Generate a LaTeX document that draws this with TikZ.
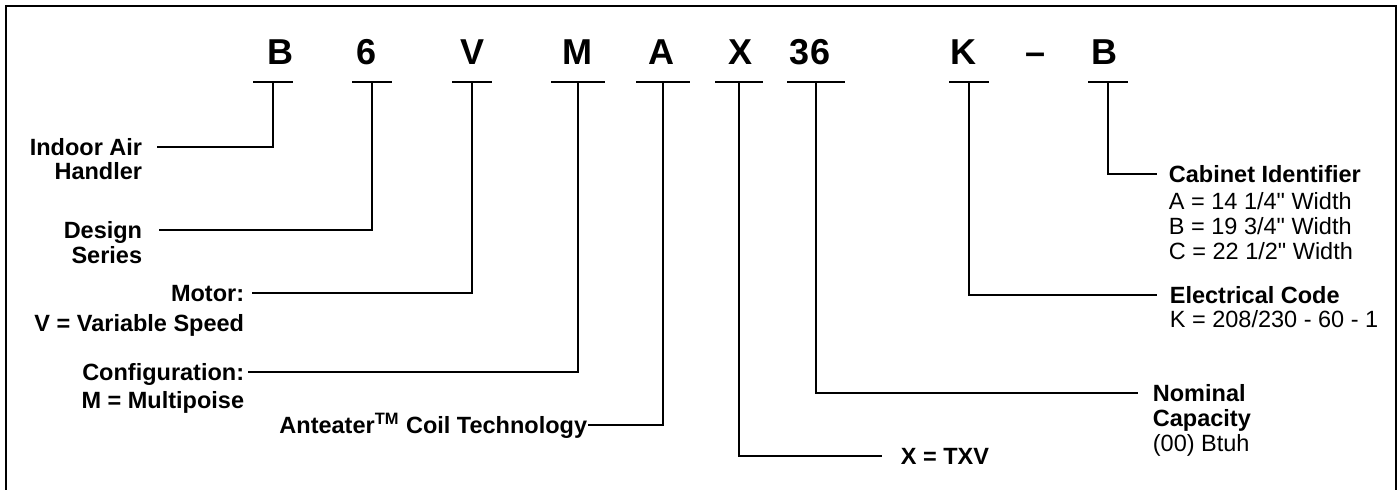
\documentclass[tikz,border=0pt]{standalone}
\usepackage{fontspec}
\setmainfont{Liberation Sans}
\usetikzlibrary{positioning}

\begin{document}
\begin{tikzpicture}[x=0.5pt,y=-0.5pt,line width=0.9pt,
                    code node/.style={font=\bfseries\fontsize{18pt}{20pt}\selectfont,anchor=base,inner sep=0pt},
                    label node/.style={font=\bfseries\fontsize{11.75pt}{12.5pt}\selectfont,inner sep=0pt,
                                       text height=8.4pt,text depth=0pt},
                    detail node/.style={font=\fontsize{11.75pt}{12.5pt}\selectfont,inner sep=0pt,align=left}]

  \useasboundingbox (0,0) rectangle (1399,489);
  \draw (6,500) |- (1396,6) -- (1396,500);

  % model number and the bars under it
  \foreach \cx/\ch/\sx/\hw/\nm in {280/B/273/20/b, 367/6/372/20/six, 473/V/472/20/v,
                                   577/M/578/27/m, 661/A/663/27/a, 740/X/739/24/x,
                                   810/36/816/29/cap, 963/K/969/20/k, 1104/B/1108/20/cab}{
    \node[code node] (c\nm) at (\cx,64) {\ch};
    \coordinate (t\nm) at (\sx,82);
    \draw (t\nm) ++(-\hw,0) -- ++(2*\hw,0);
  }
  \node[code node] (dash) at (1036,64) {\textendash};

  % left side
  \node[label node,anchor=east] (indoor) at (143,147) {Indoor Air};
  \node[label node,below=12pt of indoor.base east,anchor=base east] (handler) {Handler};
  \node[label node,anchor=east] (design) at (143,230) {Design};
  \node[label node,below=12.5pt of design.base east,anchor=base east] (series) {Series};
  \node[label node,anchor=east] (motor) at (245,293) {Motor:};
  \node[label node,below=15pt of motor.base east,anchor=base east] (speed) {V = Variable Speed};
  \node[label node,anchor=east] (config) at (245,372) {Configuration:};
  \node[label node,below=14pt of config.base east,anchor=base east] (poise) {M = Multipoise};
  \node[label node,anchor=east] (coil) at (588,425) {Anteater\textsuperscript{TM} Coil Technology};

  % right side
  \node[label node,anchor=west] (cabinet) at (1168,174) {Cabinet Identifier};
  \node[detail node,below=4.4pt of cabinet.base west,anchor=north west] (widths)
    {A = 14 1/4\textquotedbl{} Width\\B = 19 3/4\textquotedbl{} Width\\C = 22 1/2\textquotedbl{} Width};
  \node[label node,anchor=west] (elec) at (1169,295) {Electrical Code};
  \node[detail node,below=12pt of elec.base west,anchor=base west] (volts) {K = 208/230 - 60 - 1};
  \node[label node,anchor=west] (nominal) at (1152,393) {Nominal};
  \node[label node,below=12.5pt of nominal.base west,anchor=base west] (capacity) {Capacity};
  \node[detail node,below=12.5pt of capacity.base west,anchor=base west] (btuh) {(00) Btuh};
  \node[label node,anchor=west] (txv) at (900,456) {X = TXV};

  % connectors
  \draw (tb) |- ([xshift=7pt]indoor.east);
  \draw (tsix) |- ([xshift=8pt]design.east);
  \draw (tv) |- ([xshift=3.5pt]motor.east);
  \draw (tm) |- ([xshift=1.5pt]config.east);
  \draw (ta) |- (coil.east);
  \draw (tcab) |- ([xshift=-5.5pt]cabinet.west);
  \draw (tk) |- ([xshift=-6pt]elec.west);
  \draw (tcap) |- ([xshift=-7pt]nominal.west);
  \draw (tx) |- ([xshift=-9pt]txv.west);
\end{tikzpicture}
\end{document}
